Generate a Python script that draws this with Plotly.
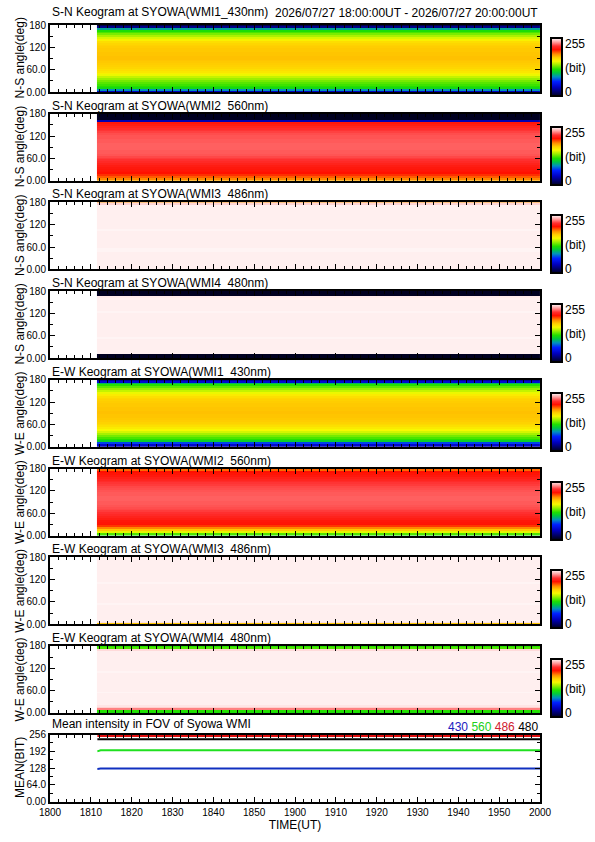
import plotly.graph_objects as go

# --- data ------------------------------------------------------------------
TITLE_TIME = "2026/07/27 18:00:00UT - 2026/07/27 20:00:00UT"

# time axis: minutes after 18:00 UT, labelled as HHMM
XTICK_POS = [0, 10, 20, 30, 40, 50, 60, 70, 80, 90, 100, 110, 120]
XTICK_TEXT = ["1800", "1810", "1820", "1830", "1840", "1850", "1900",
              "1910", "1920", "1930", "1940", "1950", "2000"]

# keogram time span (edges, minutes after 18:00)
TIME_EDGES = [11.5, 120]

# angle bins (deg)
ANGLE = [0, 5, 10, 15, 20, 25, 30, 35, 40, 45, 50, 55, 60, 65, 70, 75, 80, 85, 90,
         95, 100, 105, 110, 115, 120, 125, 130, 135, 140, 145, 150, 155, 160, 165,
         170, 175, 180]

# intensity profiles (bit) along the angle bins
SN_430 = [40, 85, 112, 118, 122, 126, 131, 137, 144, 151, 156, 160, 163, 166, 168, 169,
          170, 171, 172, 172, 171, 171, 170, 170, 169, 168, 166, 163, 156, 148, 140, 132,
          124, 116, 90, 25, 10]
SN_560 = [178, 185, 192, 199, 204, 206, 207, 208, 210, 213, 216, 219, 221, 223, 225, 226,
          226, 227, 227, 227, 227, 226, 226, 225, 225, 224, 222, 220, 217, 214, 210, 207,
          35, 0, 0, 0, 0]
SN_486 = [251, 252, 252, 252, 252, 252, 252, 252, 252, 252, 253, 253, 252, 252, 252, 252,
          252, 252, 252, 252, 252, 253, 252, 252, 252, 252, 252, 252, 252, 252, 252, 252,
          252, 252, 252, 247, 185]
SN_480 = [0, 0, 0, 252, 252, 252, 252, 252, 252, 252, 252, 253, 252, 252, 252, 252, 252,
          252, 252, 252, 252, 252, 252, 252, 252, 253, 252, 252, 252, 252, 252, 252, 252,
          251, 0, 0, 0]
EW_430 = [35, 45, 70, 108, 118, 124, 131, 139, 147, 153, 158, 162, 165, 167, 169, 170,
          171, 171, 172, 172, 171, 171, 170, 170, 169, 168, 166, 163, 158, 151, 144, 136,
          127, 118, 98, 45, 30]
EW_560 = [115, 125, 150, 170, 185, 198, 205, 206, 207, 210, 213, 216, 219, 221, 223, 224,
          225, 226, 226, 227, 227, 227, 226, 226, 225, 224, 223, 221, 220, 217, 214, 211,
          208, 206, 204, 190, 25]
EW_486 = [170, 249, 252, 252, 252, 252, 252, 252, 252, 252, 252, 253, 252, 252, 252, 252,
          252, 252, 252, 252, 252, 252, 253, 252, 252, 252, 252, 252, 252, 252, 252, 252,
          252, 252, 252, 252, 251]
EW_480 = [115, 118, 232, 246, 250, 252, 252, 252, 252, 252, 252, 253, 252, 252, 252, 252,
          252, 252, 252, 252, 252, 252, 253, 252, 252, 252, 252, 252, 252, 252, 252, 252,
          252, 252, 248, 125, 118]

PANEL_TITLES = [
    "S-N Keogram at SYOWA(WMI1_430nm)",
    "S-N Keogram at SYOWA(WMI2_560nm)",
    "S-N Keogram at SYOWA(WMI3_486nm)",
    "S-N Keogram at SYOWA(WMI4_480nm)",
    "E-W Keogram at SYOWA(WMI1_430nm)",
    "E-W Keogram at SYOWA(WMI2_560nm)",
    "E-W Keogram at SYOWA(WMI3_486nm)",
    "E-W Keogram at SYOWA(WMI4_480nm)",
]
PANEL_PROFILES = [SN_430, SN_560, SN_486, SN_480, EW_430, EW_560, EW_486, EW_480]
PANEL_YTITLES = ["N-S angle(deg)"] * 4 + ["W-E angle(deg)"] * 4

# mean intensity in FOV
MEAN_TIME = [11.6, 12.4, 20, 40, 60, 80, 100, 120]
MEAN_430 = [125, 126, 126, 126, 126, 126, 126, 126]
MEAN_560 = [192, 196, 196, 196, 196, 196, 196, 196]
MEAN_486 = [251, 251, 251, 251, 251, 251, 251, 251]
MEAN_480 = [238, 238, 238, 238, 238, 238, 238, 238]

# --- styling ---------------------------------------------------------------
W, H = 595, 842
FONT = "Liberation Sans, Arial, sans-serif"
PLOT_L, PLOT_R = 50, 540
TOP0, STEP, PH = 25, 88.7, 67

COLORSCALE = [
    [0.00, "#000020"], [0.06, "#000060"], [0.15, "#0000c0"], [0.25, "#0020ff"],
    [0.33, "#0090c0"], [0.40, "#00c840"], [0.46, "#20e000"], [0.54, "#a0f000"],
    [0.60, "#f8f800"], [0.66, "#ffd000"], [0.72, "#ff9000"], [0.80, "#ff1000"],
    [0.86, "#ff3030"], [0.93, "#ffa0a0"], [1.00, "#ffffff"],
]


def px_x(v):
    return v / W


def px_y(v):
    return 1 - v / H


def keogram(profile):
    # one row per angle bin, constant over the time span
    return [[v] for v in profile]


fig = go.Figure()
annotations = []
layout = {}

for i in range(9):
    top = TOP0 + STEP * i
    bot = top + PH
    n = "" if i == 0 else str(i + 1)
    ax_common = dict(
        showline=True, linewidth=2, linecolor="black", mirror="allticks",
        ticks="inside", ticklen=5, tickwidth=1, tickcolor="black",
        showgrid=False, zeroline=False, tickmode="array", automargin=False,
        tickfont=dict(family=FONT, size=10, color="black"),
    )
    layout["xaxis" + n] = dict(
        ax_common, domain=[px_x(PLOT_L), px_x(PLOT_R)], anchor="y" + n,
        range=[0, 120], tickvals=XTICK_POS, ticktext=XTICK_TEXT,
        showticklabels=(i == 8),
        minor=dict(dtick=2, tick0=0, ticks="inside", ticklen=3, tickcolor="black"),
    )
    if i < 8:
        layout["yaxis" + n] = dict(
            ax_common, domain=[px_y(bot), px_y(top)], anchor="x" + n,
            range=[0, 180], tickvals=[0, 60, 120, 180],
            ticktext=["0.00", "60.0", "120", "180"],
            minor=dict(dtick=30, tick0=0, ticks="inside", ticklen=3, tickcolor="black"),
        )
        fig.add_trace(go.Heatmap(
            x=TIME_EDGES, y=ANGLE, z=keogram(PANEL_PROFILES[i]),
            xaxis="x" + n, yaxis="y" + n,
            colorscale=COLORSCALE, zmin=0, zmax=255,
            colorbar=dict(
                x=px_x(551), xanchor="left", xpad=0, ypad=0,
                y=px_y(top + 42), yanchor="middle", len=58 / H, lenmode="fraction",
                thickness=11, thicknessmode="pixels",
                outlinewidth=2, outlinecolor="black", ticks="", showticklabels=False,
            ),
        ))
        annotations.append(dict(
            x=px_x(PLOT_L), y=px_y(top - (13 if i == 0 else 8)), xref="paper", yref="paper",
            text=PANEL_TITLES[i], showarrow=False, xanchor="left", yanchor="middle",
            font=dict(family=FONT, size=12, color="black"),
        ))
        annotations.append(dict(
            x=px_x(20), y=px_y(top + PH / 2), xref="paper", yref="paper",
            text=PANEL_YTITLES[i], textangle=-90, showarrow=False,
            xanchor="center", yanchor="middle",
            font=dict(family=FONT, size=12, color="black"),
        ))
        for txt, yy in [("255", top + 19), ("(bit)", top + 43), ("0", top + 67)]:
            annotations.append(dict(
                x=px_x(563), y=px_y(yy), xref="paper", yref="paper", text=txt,
                showarrow=False, xanchor="left", yanchor="middle",
                font=dict(family=FONT, size=12, color="black"),
            ))
    else:
        layout["yaxis" + n] = dict(
            ax_common, domain=[px_y(bot), px_y(top)], anchor="x" + n,
            range=[0, 256], tickvals=[0, 64, 128, 192, 256],
            ticktext=["0.00", "64.0", "128", "192", "256"],
            minor=dict(dtick=32, tick0=0, ticks="inside", ticklen=3, tickcolor="black"),
        )
        layout["xaxis" + n]["title"] = dict(
            text="TIME(UT)", font=dict(family=FONT, size=12, color="black"), standoff=2)
        for vals, col in [(MEAN_486, "#e01010"), (MEAN_480, "black"),
                          (MEAN_560, "#20e020"), (MEAN_430, "#1030c0")]:
            fig.add_trace(go.Scatter(
                x=MEAN_TIME, y=vals, mode="lines", xaxis="x" + n, yaxis="y" + n,
                line=dict(color=col, width=2), showlegend=False,
            ))
        annotations.append(dict(
            x=px_x(PLOT_L), y=px_y(top - 11), xref="paper", yref="paper",
            text="Mean intensity in FOV of Syowa WMI", showarrow=False,
            xanchor="left", yanchor="middle",
            font=dict(family=FONT, size=12, color="black"),
        ))
        annotations.append(dict(
            x=px_x(20), y=px_y(top + PH / 2), xref="paper", yref="paper",
            text="MEAN(BIT)", textangle=-90, showarrow=False,
            xanchor="center", yanchor="middle",
            font=dict(family=FONT, size=12, color="black"),
        ))
        annotations.append(dict(
            x=px_x(PLOT_R), y=px_y(top - 8), xref="paper", yref="paper",
            text=('<span style="color:#2020c0">430</span> '
                  '<span style="color:#20d020">560</span> '
                  '<span style="color:#d02030">486</span> '
                  '<span style="color:black">480</span>'),
            showarrow=False, xanchor="right", yanchor="middle",
            font=dict(family=FONT, size=12, color="black"),
        ))

annotations.append(dict(
    x=px_x(PLOT_R), y=px_y(13), xref="paper", yref="paper", text=TITLE_TIME,
    showarrow=False, xanchor="right", yanchor="middle",
    font=dict(family=FONT, size=12, color="black"),
))

fig.update_layout(
    width=W, height=H, margin=dict(l=0, r=0, t=0, b=0),
    paper_bgcolor="white", plot_bgcolor="white", showlegend=False,
    annotations=annotations, **layout,
)

# drop the browser's default body margin so the figure sits at the page corner
fig.write_html("out.html", config={"displayModeBar": False},
               post_script="document.body.style.margin='0';")
